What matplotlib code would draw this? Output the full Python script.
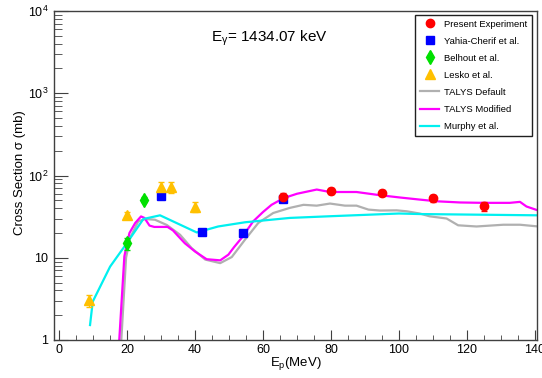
import math

import matplotlib
matplotlib.use("Agg")
import matplotlib.pyplot as plt
from matplotlib.ticker import LogLocator, FixedLocator, FuncFormatter, NullFormatter

plt.rcParams['font.family'] = ['Liberation Sans', 'DejaVu Sans']
plt.rcParams['mathtext.fontset'] = 'custom'
plt.rcParams['mathtext.rm'] = 'Liberation Sans'
plt.rcParams['mathtext.it'] = 'Liberation Sans'
plt.rcParams['mathtext.default'] = 'regular'

# measured points
exp_e = [66, 80, 95, 110, 125]
exp_xs = [55, 65, 61.5, 53, 42.5]
exp_err = [6, 6, 5, 5, 5]

yahia_e = [30, 42, 54, 66]
yahia_xs = [56, 20.6, 19.8, 52.5]

belhout_e = [20, 25]
belhout_xs = [15, 51]
belhout_err = [2.5, 4]

lesko_e = [8.8, 20, 30, 33, 40]
lesko_xs = [3.05, 33, 72, 72, 41.5]
lesko_err = [0.5, 3, 12, 11, 6]

# calculations
talys_def_e = [18.3, 19.7, 20.9, 23.3, 25.3, 28.2, 31.7, 35.6, 39.0, 43.0, 47.4,
               50.8, 54.7, 58.6, 63.0, 67.9, 71.9, 75.8, 79.7, 84.1, 87.5, 91.0,
               94.4, 99.3, 102.3, 106.2, 109.0, 114.0, 117.4, 122.8, 130.7, 135.6, 141]
talys_def_xs = [1.0, 10, 17.5, 27.7, 29.6, 29, 25, 19, 13.1, 9.5, 8.6,
                10.2, 16.6, 26.5, 35, 40.4, 44, 43, 45.6, 43, 43, 38.5,
                37.5, 37.7, 36.7, 34.4, 31.9, 30, 24.8, 24, 25.2, 25.2, 24]

talys_mod_e = [17.7, 19.2, 20.0, 20.7, 22.4, 24.1, 25.1, 26.6, 28.0, 29.2, 31.9,
               33.5, 35.1, 37.0, 40.0, 43.4, 47.4, 49.8, 51.5, 53.7, 57.1, 60.0,
               62.5, 66.0, 70.0, 75.8, 79.7, 87.5, 94.4, 100.3, 106.0, 111.0, 118,
               124.8, 132.6, 135.6, 137.5, 141]
talys_mod_xs = [1.0, 10.4, 15, 20, 26.5, 31.8, 30.5, 24.6, 23.7, 23.7, 23.7,
                21.5, 18.2, 15.0, 11.9, 9.6, 9.3, 10.9, 13.5, 17.4, 27.7, 36,
                44, 53, 60, 67.5, 63, 63, 57.6, 54, 51, 48.6, 47,
                46.5, 46.5, 47.8, 42, 37.5]

murphy_e = [9.1, 9.9, 15, 19.6, 24.8, 29.7, 40.5, 46.8, 54.7, 67.9, 80, 100, 106, 120, 141]
murphy_xs = [1.52, 2.93, 7.8, 14.4, 29.6, 32.8, 20.3, 24, 27, 30.5, 32, 34.5, 34, 33.5, 32.8]

fig = plt.figure(figsize=(5.42, 3.78), dpi=100)
ax = fig.add_axes([54 / 542, 38 / 378, 483 / 542, 329 / 378])

ax.plot(talys_def_e, talys_def_xs, color='#b0b0b0', lw=1.6, label='TALYS Default', zorder=2)
ax.plot(talys_mod_e, talys_mod_xs, color='#ff00ff', lw=1.6, label='TALYS Modified', zorder=2)
ax.plot(murphy_e, murphy_xs, color='#00f0f0', lw=1.6, label='Murphy et al.', zorder=2)

ax.errorbar(lesko_e, lesko_xs, yerr=lesko_err, fmt='none', ecolor='#ffc000',
            elinewidth=1, capsize=2, zorder=3)
ax.errorbar(belhout_e, belhout_xs, yerr=belhout_err, fmt='none', ecolor='#00e000',
            elinewidth=1, capsize=2, zorder=3)
ax.errorbar(exp_e, exp_xs, yerr=exp_err, fmt='none', ecolor='#ff0000',
            elinewidth=1, capsize=2, zorder=4)

ax.plot(exp_e, exp_xs, 'o', color='#ff0000', ms=6, ls='none',
        label='Present Experiment', zorder=5)
ax.plot(yahia_e, yahia_xs, 's', color='#0000ff', ms=6, ls='none',
        label='Yahia-Cherif et al.', zorder=4)
ax.plot(belhout_e, belhout_xs, 'd', color='#00e000', ms=7.5, ls='none',
        label='Belhout et al.', zorder=4)
ax.plot(lesko_e, lesko_xs, '^', color='#ffc000', ms=6.5, ls='none',
        label='Lesko et al.', zorder=4)

ax.set_yscale('log')
ax.set_xlim(-1.5, 140.6)
ax.set_ylim(1, 1e4)

ax.xaxis.set_major_locator(FixedLocator([0, 20, 40, 60, 80, 100, 120, 140]))
ax.xaxis.set_minor_locator(FixedLocator(range(0, 145, 5)))
ax.yaxis.set_major_locator(LogLocator(base=10))
ax.yaxis.set_minor_locator(LogLocator(base=10, subs=range(2, 10)))
ax.yaxis.set_minor_formatter(NullFormatter())


def ylab(v, pos):
    if v < 5:
        return '1'
    if v < 50:
        return '10'
    return r'$10^{%d}$' % round(math.log10(v))


ax.yaxis.set_major_formatter(FuncFormatter(ylab))

ax.tick_params(axis='both', which='both', direction='in', top=False, right=False,
               labelsize=9, color='#404040')
ax.tick_params(axis='x', which='major', length=7, pad=3)
ax.tick_params(axis='x', which='minor', length=3.6)
ax.tick_params(axis='y', which='major', length=10, pad=4)
ax.tick_params(axis='y', which='minor', length=5.5)
for sp in ax.spines.values():
    sp.set_color('#404040')
    sp.set_linewidth(1)

ax.set_xlabel(r'E$_{p}$(MeV)', fontsize=9.5)
ax.set_ylabel('Cross Section σ (mb)', fontsize=9.5)
ax.xaxis.set_label_coords(0.50, -0.045)
ax.yaxis.set_label_coords(-0.058, 0.51)

ax.text(0.445, 0.918, r'E$_{\gamma}$= 1434.07 keV', transform=ax.transAxes,
        ha='center', va='center', fontsize=11)

handles, labels = ax.get_legend_handles_labels()
order = ['Present Experiment', 'Yahia-Cherif et al.', 'Belhout et al.', 'Lesko et al.',
         'TALYS Default', 'TALYS Modified', 'Murphy et al.']
hmap = dict(zip(labels, handles))
leg = ax.legend([hmap[k] for k in order], order, loc='upper right',
                bbox_to_anchor=(0.990, 0.988), borderaxespad=0, fontsize=6.8,
                frameon=True, fancybox=False, framealpha=1, edgecolor='#202020',
                handlelength=2.1, handletextpad=0.5, labelspacing=0.85,
                borderpad=0.5)
leg.get_frame().set_linewidth(1)

fig.savefig('out.png', dpi=100)
